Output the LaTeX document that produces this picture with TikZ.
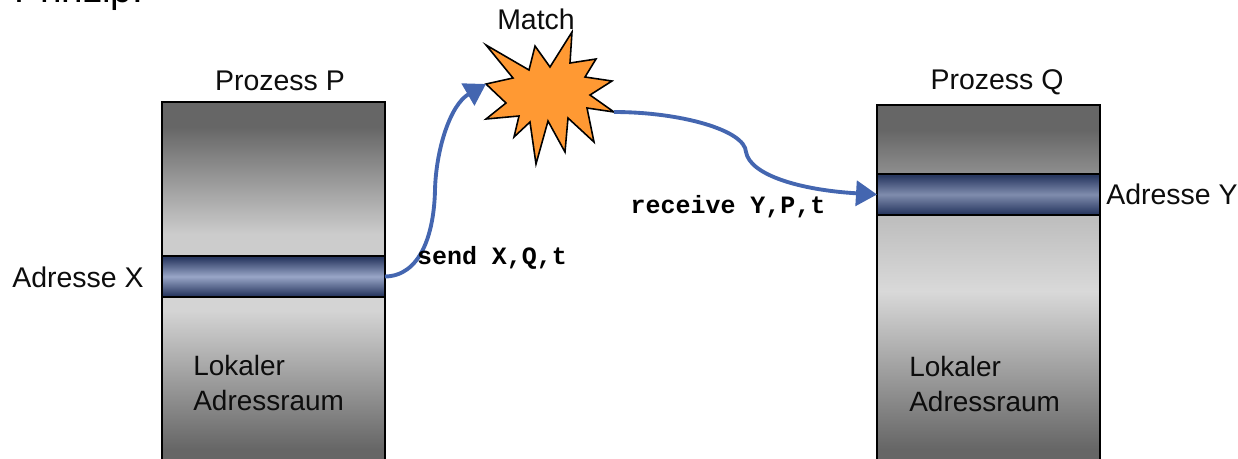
\documentclass[tikz,border=0pt]{standalone}
\usepackage{fontspec}
\setmainfont{Liberation Sans}
\setmonofont{Liberation Mono}
\usepackage{xcolor}
\usepackage{tikz}
\definecolor{arrowcolor}{RGB}{68, 102, 176}
\definecolor{starcolor}{RGB}{255, 153, 51}
\usetikzlibrary{arrows.meta, positioning, calc}
\pgfdeclareverticalshading{upperP}{100bp}{rgb(0bp)=(.80,.80,.80); rgb(32bp)=(.80,.80,.80); rgb(67bp)=(.40,.40,.40); rgb(100bp)=(.40,.40,.40)}
\pgfdeclareverticalshading{upperQ}{100bp}{rgb(0bp)=(.56,.56,.56); rgb(25bp)=(.56,.56,.56); rgb(57bp)=(.40,.40,.40); rgb(100bp)=(.40,.40,.40)}
\pgfdeclareverticalshading{lowerP}{100bp}{rgb(0bp)=(.40,.40,.40); rgb(31bp)=(.40,.40,.40); rgb(71bp)=(.83,.83,.83); rgb(100bp)=(.83,.83,.83)}
\pgfdeclareverticalshading{lowerQ}{100bp}{rgb(0bp)=(.40,.40,.40); rgb(29bp)=(.40,.40,.40); rgb(60bp)=(.85,.85,.85); rgb(75bp)=(.74,.74,.74); rgb(100bp)=(.74,.74,.74)}
\pgfdeclareverticalshading{bandP}{100bp}{rgb(0bp)=(.16,.22,.38); rgb(27bp)=(.16,.22,.38); rgb(50bp)=(.60,.65,.78); rgb(73bp)=(.16,.22,.38); rgb(100bp)=(.16,.22,.38)}
\pgfdeclareverticalshading{bandQ}{100bp}{rgb(0bp)=(.16,.22,.38); rgb(27bp)=(.16,.22,.38); rgb(50bp)=(.50,.55,.68); rgb(73bp)=(.16,.22,.38); rgb(100bp)=(.16,.22,.38)}

\begin{document}
\begin{tikzpicture}[
    x=0.02cm, y=-0.02cm,
    boxpart/.style={rectangle, draw=black, line width=0.7pt, minimum width=4.46cm, inner sep=0pt, outer sep=0pt},
    band/.style={boxpart, minimum height=0.82cm},
    label/.style={font=\fontsize{16.2}{19.8}\selectfont, inner sep=0pt, text=black!95},
    local/.style={font=\fontsize{15.9}{19.8}\selectfont, inner sep=0pt, text=black!95, align=left, anchor=north west, text width=3.5cm},
    code/.style={font=\ttfamily\bfseries\fontsize{14.2}{16}\selectfont, inner sep=0pt},
    flow/.style={-{Triangle[length=0.42cm, width=0.5cm]}, line width=2.2pt, arrowcolor}
]
    \useasboundingbox (0,0) rectangle (1238,458);
    % Prozess P
    \node[boxpart, minimum height=3.08cm, shading=upperP] (topP) at (273.5,179) {};
    \node[boxpart, minimum height=3.46cm, shading=lowerP] (lowP) at (273.5,383.5) {};
    \node[band, shading=bandP] (bandP) at (273.5,276.5) {};
    \node[label] (nameP) at (280,81) {Prozess P};
    \node[label] (addrX) at (78,277) {Adresse X};
    \node[local] (localP) at (193,355) {Lokaler\\Adressraum};

    % Prozess Q
    \node[boxpart, minimum height=1.38cm, shading=upperQ] (topQ) at (988.5,139.5) {};
    \node[boxpart, minimum height=5.1cm, shading=lowerQ] (lowQ) at (988.5,342) {};
    \node[band, shading=bandQ] (bandQ) at (988.5,194.5) {};
    \node[label] (nameQ) at (997,82) {Prozess Q};
    \node[label] (addrY) at (1172,194) {Adresse Y};
    \node[local] (localQ) at (909,356) {Lokaler\\Adressraum};

    % Match
    \draw[black, line width=0.9pt, fill=starcolor, line join=miter]
        (486,45) -- (529,70) -- (535,46) -- (550,67) -- (572,32) -- (570,63)
        -- (596,59) -- (585,77) -- (612,81) -- (590,95) -- (614,112) -- (587,108)
        -- (594,142) -- (568,118) -- (565,152) -- (548,121) -- (536,164) -- (530,122)
        -- (514,137) -- (519,116) -- (486,119) -- (506,103) -- (486,84) -- (513,78) -- cycle;
    \coordinate (starIn) at (486,84);
    \coordinate (starOut) at (614,112);
    \node[label] (match) at (536,19) {Match};

    % Messages
    \draw[flow] (bandP.east) .. controls (420,276) and (434,235) .. (435,190)
        .. controls (436,150) and (450,105) .. (starIn);
    \draw[flow] (starOut) .. controls (680,112) and (745,130) .. (746,152)
        .. controls (750,175) and (800,190) .. (bandQ.west);
    \node[code] (send) at (492,258) {send X,Q,t};
    \node[code] (receive) at (728,207) {receive Y,P,t};

    \node[font=\fontsize{22}{26}\selectfont, anchor=base west, inner sep=0pt] (title) at (14,2) {Prinzip:};
\end{tikzpicture}
\end{document}
